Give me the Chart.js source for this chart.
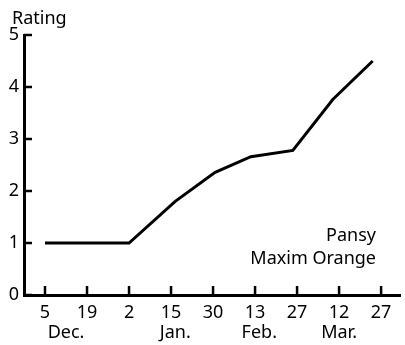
<!DOCTYPE html>
<html>
<head>
<meta charset="utf-8">
<script src="https://cdn.jsdelivr.net/npm/chart.js@4"></script>
<style>
  body { margin: 0; background: #fff; }
</style>
</head>
<body>
<canvas id="ratingChart" width="405" height="345"></canvas>
<script>
// tick labels along the bottom (one per tick, equally spaced)
const dayLabels = ['5', '19', '2', '15', '30', '13', '27', '12', '27'];
const monthLabels = ['Dec.', 'Jan.', 'Feb.', 'Mar.'];
const monthAt = [0.5, 3.1, 5.1, 7];

// observation positions (in tick units) and ratings
const obsX = [0, 2, 3.1, 4.05, 4.9, 5.9, 6.85, 7.8];
const rating = [1, 1, 1.8, 2.36, 2.66, 2.78, 3.76, 4.5];

const FONT = "'Noto Sans', sans-serif";

// ticks pointing inward + the extra texts
const extras = {
    id: 'extras',
    afterDraw(chart) {
        const ctx = chart.ctx;
        const xs = chart.scales.x, ys = chart.scales.y;
        const area = chart.chartArea;
        ctx.save();
        ctx.strokeStyle = '#000';
        ctx.lineWidth = 2.5;
        ctx.beginPath();
        dayLabels.forEach((_, i) => {
            const px = xs.getPixelForValue(i);
            ctx.moveTo(px, area.bottom);
            ctx.lineTo(px, area.bottom - 9);
        });
        ys.ticks.forEach(t => {
            const py = ys.getPixelForValue(t.value);
            ctx.moveTo(area.left, py);
            ctx.lineTo(area.left + 8, py);
        });
        ctx.stroke();

        ctx.fillStyle = '#000';
        ctx.font = '18px ' + FONT;
        ctx.textBaseline = 'alphabetic';
        ctx.textAlign = 'center';
        monthLabels.forEach((m, i) => {
            ctx.fillText(m, xs.getPixelForValue(monthAt[i]), 338);
        });
        ctx.textAlign = 'left';
        ctx.fillText('Rating', 12, 24);
        ctx.textAlign = 'right';
        ctx.fillText('Pansy', 376, 241);
        ctx.fillText('Maxim Orange', 376, 264);
        ctx.restore();
    }
};

const ctx = document.getElementById('ratingChart').getContext('2d');
new Chart(ctx, {
    type: 'line',
    data: {
        datasets: [{
            data: obsX.map((x, i) => ({ x: x, y: rating[i] })),
            borderColor: '#000',
            borderWidth: 3,
            pointRadius: 0,
            tension: 0,
            fill: false
        }]
    },
    options: {
        responsive: false,
        animation: false,
        devicePixelRatio: 1,
        layout: { padding: { top: 35, right: 5, left: 0, bottom: 0 } },
        plugins: { legend: { display: false }, tooltip: { enabled: false } },
        scales: {
            x: {
                type: 'linear',
                min: -0.5,
                max: 8.45,
                afterFit: s => { s.height = 50; },
                afterBuildTicks: s => { s.ticks = dayLabels.map((_, i) => ({ value: i })); },
                grid: { display: false, drawTicks: false },
                border: { display: true, color: '#000', width: 3 },
                ticks: {
                    color: '#000',
                    font: { size: 18, family: FONT },
                    padding: 7,
                    maxRotation: 0,
                    autoSkip: false,
                    callback: v => dayLabels[v]
                }
            },
            y: {
                min: 0,
                max: 5,
                afterFit: s => { s.width = 24; },
                grid: { display: false, drawTicks: false },
                border: { display: true, color: '#000', width: 3 },
                ticks: {
                    stepSize: 1,
                    color: '#000',
                    font: { size: 18, family: FONT },
                    padding: 5
                }
            }
        }
    },
    plugins: [extras]
});
</script>
</body>
</html>
